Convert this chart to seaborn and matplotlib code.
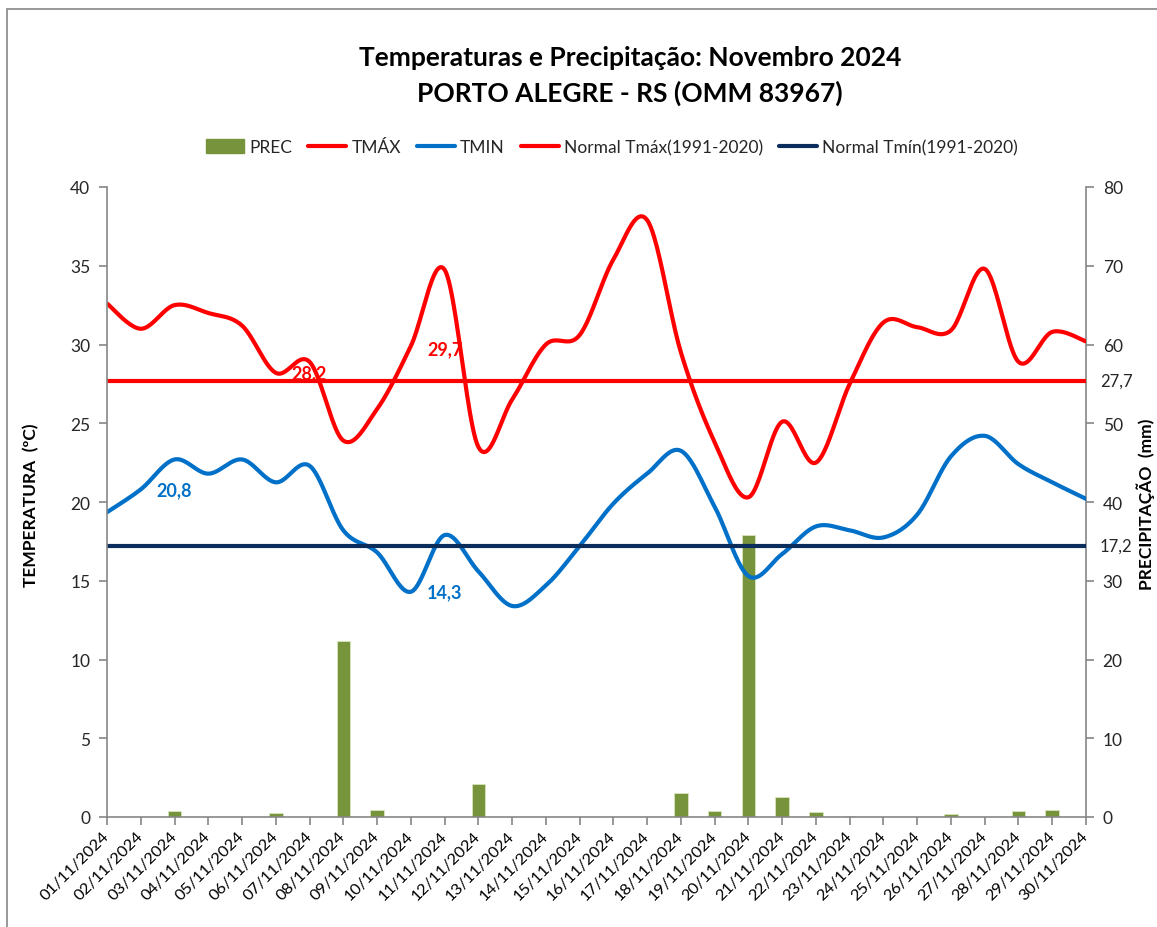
import numpy as np
import pandas as pd
import matplotlib
matplotlib.use("Agg")
import matplotlib.pyplot as plt
import seaborn as sns
from matplotlib.lines import Line2D
from matplotlib.patches import Patch, Rectangle

# ---------------- data ----------------
dates = ["01/11/2024", "02/11/2024", "03/11/2024", "04/11/2024", "05/11/2024",
         "06/11/2024", "07/11/2024", "08/11/2024", "09/11/2024", "10/11/2024",
         "11/11/2024", "12/11/2024", "13/11/2024", "14/11/2024", "15/11/2024",
         "16/11/2024", "17/11/2024", "18/11/2024", "19/11/2024", "20/11/2024",
         "21/11/2024", "22/11/2024", "23/11/2024", "24/11/2024", "25/11/2024",
         "26/11/2024", "27/11/2024", "28/11/2024", "29/11/2024", "30/11/2024"]
prec = [0, 0, 0.8, 0, 0, 0.5, 0, 22.3, 0.9, 0,
        0, 4.2, 0, 0, 0, 0, 0, 3.1, 0.8, 35.8,
        2.5, 0.6, 0.15, 0, 0, 0.4, 0, 0.8, 0.9, 0]
tmax = [32.6, 31.0, 32.5, 32.0, 31.2, 28.2, 28.9, 23.9, 25.9, 29.9,
        34.75, 23.5, 26.5, 30.0, 30.6, 35.4, 37.9, 29.5, 23.8, 20.3,
        25.1, 22.5, 27.5, 31.4, 31.1, 30.9, 34.8, 28.9, 30.8, 30.2]
tmin = [19.35, 20.8, 22.7, 21.8, 22.7, 21.25, 22.3, 18.2, 16.8, 14.3,
        17.9, 15.6, 13.4, 14.7, 17.2, 19.9, 21.8, 23.25, 19.7, 15.3,
        16.7, 18.45, 18.2, 17.75, 19.2, 22.9, 24.2, 22.4, 21.25, 20.2]
normal_tmax = 27.7
normal_tmin = 17.2
# point labels: (index, value, series)
point_labels = [(6, 28.2, "tmax"), (10, 29.7, "tmax"), (2, 20.8, "tmin"), (10, 14.3, "tmin")]

title_l1 = "Temperaturas e Precipitação: Novembro 2024"
title_l2 = "PORTO ALEGRE - RS (OMM 83967)"
legend_labels = ["PREC", "TMÁX", "TMIN", "Normal Tmáx(1991-2020)", "Normal Tmín(1991-2020)"]
ylabel_left = "TEMPERATURA  (ºC)"
ylabel_right = "PRECIPITAÇÃO  (mm)"

C_RED = "#FF0000"
C_BLUE = "#0070C8"
C_NAVY = "#0B2D5C"
C_BAR = "#77933C"
C_AX = "#868686"
C_TXT = "#262626"


def smooth_curve(values, n=24):
    """Excel-style smoothed line (cubic Bezier / Catmull-Rom) through the data points."""
    y = np.asarray(values, float)
    x = np.arange(len(y), dtype=float)
    P = np.column_stack([x, y])
    out = []
    m = len(P)
    for i in range(m - 1):
        p0 = P[i - 1] if i > 0 else P[i]
        p1 = P[i]
        p2 = P[i + 1]
        p3 = P[i + 2] if i + 2 < m else P[i + 1]
        c1 = p1 + (p2 - p0) / 6.0
        c2 = p2 - (p3 - p1) / 6.0
        t = np.linspace(0, 1, n, endpoint=(i == m - 2))[:, None]
        seg = ((1 - t) ** 3) * p1 + 3 * ((1 - t) ** 2) * t * c1 + 3 * (1 - t) * t ** 2 * c2 + t ** 3 * p2
        out.append(seg)
    out = np.vstack(out)
    return out[:, 0], out[:, 1]


sns.set_theme(style="white")
plt.rcParams["font.family"] = ["Lato", "DejaVu Sans"]

W, H = 1157, 928
fig = plt.figure(figsize=(W / 100, H / 100), dpi=100)
fig.patch.set_facecolor("white")

# outer chart border
fig.add_artist(Rectangle((7 / W, -0.1), 1.2, 1 - 10 / H + 0.1, transform=fig.transFigure,
                         fill=False, edgecolor=C_AX, linewidth=1.2))

L, R, T, B = 107, 1086, 188, 818
ax = fig.add_axes([L / W, 1 - B / H, (R - L) / W, (B - T) / H])
ax2 = ax.twinx()

# bars (secondary axis, behind lines)
df_prec = pd.DataFrame({"date": dates, "prec": prec})
sns.barplot(data=df_prec, x="date", y="prec", order=dates, ax=ax2, color=C_BAR,
            saturation=1, width=0.4, edgecolor="#D7E4BD", linewidth=0.6)
ax2.set_ylim(0, 80)
ax2.set_yticks(np.arange(0, 81, 10))
ax2.set_ylabel("")

# lines (primary axis)
xs, ys = smooth_curve(tmax)
sns.lineplot(x=xs, y=ys, ax=ax, color=C_RED, linewidth=3, sort=False, estimator=None)
xs, ys = smooth_curve(tmin)
sns.lineplot(x=xs, y=ys, ax=ax, color=C_BLUE, linewidth=3, sort=False, estimator=None)
idx = np.arange(len(dates))
sns.lineplot(x=idx, y=[normal_tmax] * len(idx), ax=ax, color=C_RED, linewidth=3, estimator=None)
sns.lineplot(x=idx, y=[normal_tmin] * len(idx), ax=ax, color=C_NAVY, linewidth=3, estimator=None)

ax.set_zorder(ax2.get_zorder() + 1)
ax.patch.set_visible(False)

ax.set_ylim(0, 40)
ax.set_yticks(np.arange(0, 41, 5))
ax.set_xlim(0, len(dates) - 1)
ax.set_xticks(idx)
ax.set_xticklabels(dates, rotation=45, ha="right", va="center", rotation_mode="anchor")
ax.set_xlabel("")
ax.set_ylabel("")

# axis titles
fig.text(31 / W, 1 - 505 / H, ylabel_left, rotation=90, ha="center", va="center",
         fontsize=12.5, fontweight="bold", color="black")
fig.text(1146 / W, 1 - 504 / H, ylabel_right, rotation=90, ha="center", va="center",
         fontsize=12.5, fontweight="bold", color="black")

# point labels
for i, v, s in point_labels:
    col = C_RED if s == "tmax" else C_BLUE
    ax.text(i, v, f"{v:.1f}".replace(".", ","), color=col, fontsize=13, fontweight="bold",
            ha="center", va="center", zorder=5)

# normal labels on right
for v in (normal_tmax, normal_tmin):
    ax.annotate(f"{v:.1f}".replace(".", ","), xy=(1, v), xycoords=("axes fraction", "data"),
                xytext=(10, 0), textcoords="offset points", ha="left", va="center",
                fontsize=12, color=C_TXT, annotation_clip=False)

# spines & ticks
for a in (ax, ax2):
    for s in a.spines.values():
        s.set_visible(False)
ax.spines["left"].set_visible(True)
ax.spines["bottom"].set_visible(True)
ax2.spines["right"].set_visible(True)
for sp in (ax.spines["left"], ax.spines["bottom"], ax2.spines["right"]):
    sp.set_color(C_AX)
    sp.set_linewidth(1.2)

ax.tick_params(axis="y", which="major", left=True, direction="out", length=6, width=1.2,
               color=C_AX, labelsize=12.5, labelcolor=C_TXT, pad=6)
ax.tick_params(axis="x", which="major", bottom=True, direction="out", length=6, width=1.2,
               color=C_AX, labelsize=11.8, labelcolor="black", pad=6)
ax2.tick_params(axis="y", which="major", right=True, direction="out", length=6, width=1.2,
                color=C_AX, labelsize=12.5, labelcolor=C_TXT, pad=6)
ax.grid(False)
ax2.grid(False)

# title
fig.text(630 / W, 1 - 58 / H, title_l1, ha="center", va="center", fontsize=19,
         fontweight="bold", color="black")
fig.text(630 / W, 1 - 93 / H, title_l2, ha="center", va="center", fontsize=19,
         fontweight="bold", color="black")

# legend
handles = [Patch(facecolor=C_BAR, edgecolor=C_BAR),
           Line2D([], [], color=C_RED, lw=3),
           Line2D([], [], color=C_BLUE, lw=3),
           Line2D([], [], color=C_RED, lw=3),
           Line2D([], [], color=C_NAVY, lw=3)]
fig.legend(handles, legend_labels, loc="center", bbox_to_anchor=(612 / W, 1 - 148 / H),
           ncol=5, frameon=False, fontsize=12.5, handlelength=2.2, handleheight=0.9,
           handletextpad=0.3, columnspacing=0.9)

fig.savefig("out.png", dpi=100, facecolor="white")
